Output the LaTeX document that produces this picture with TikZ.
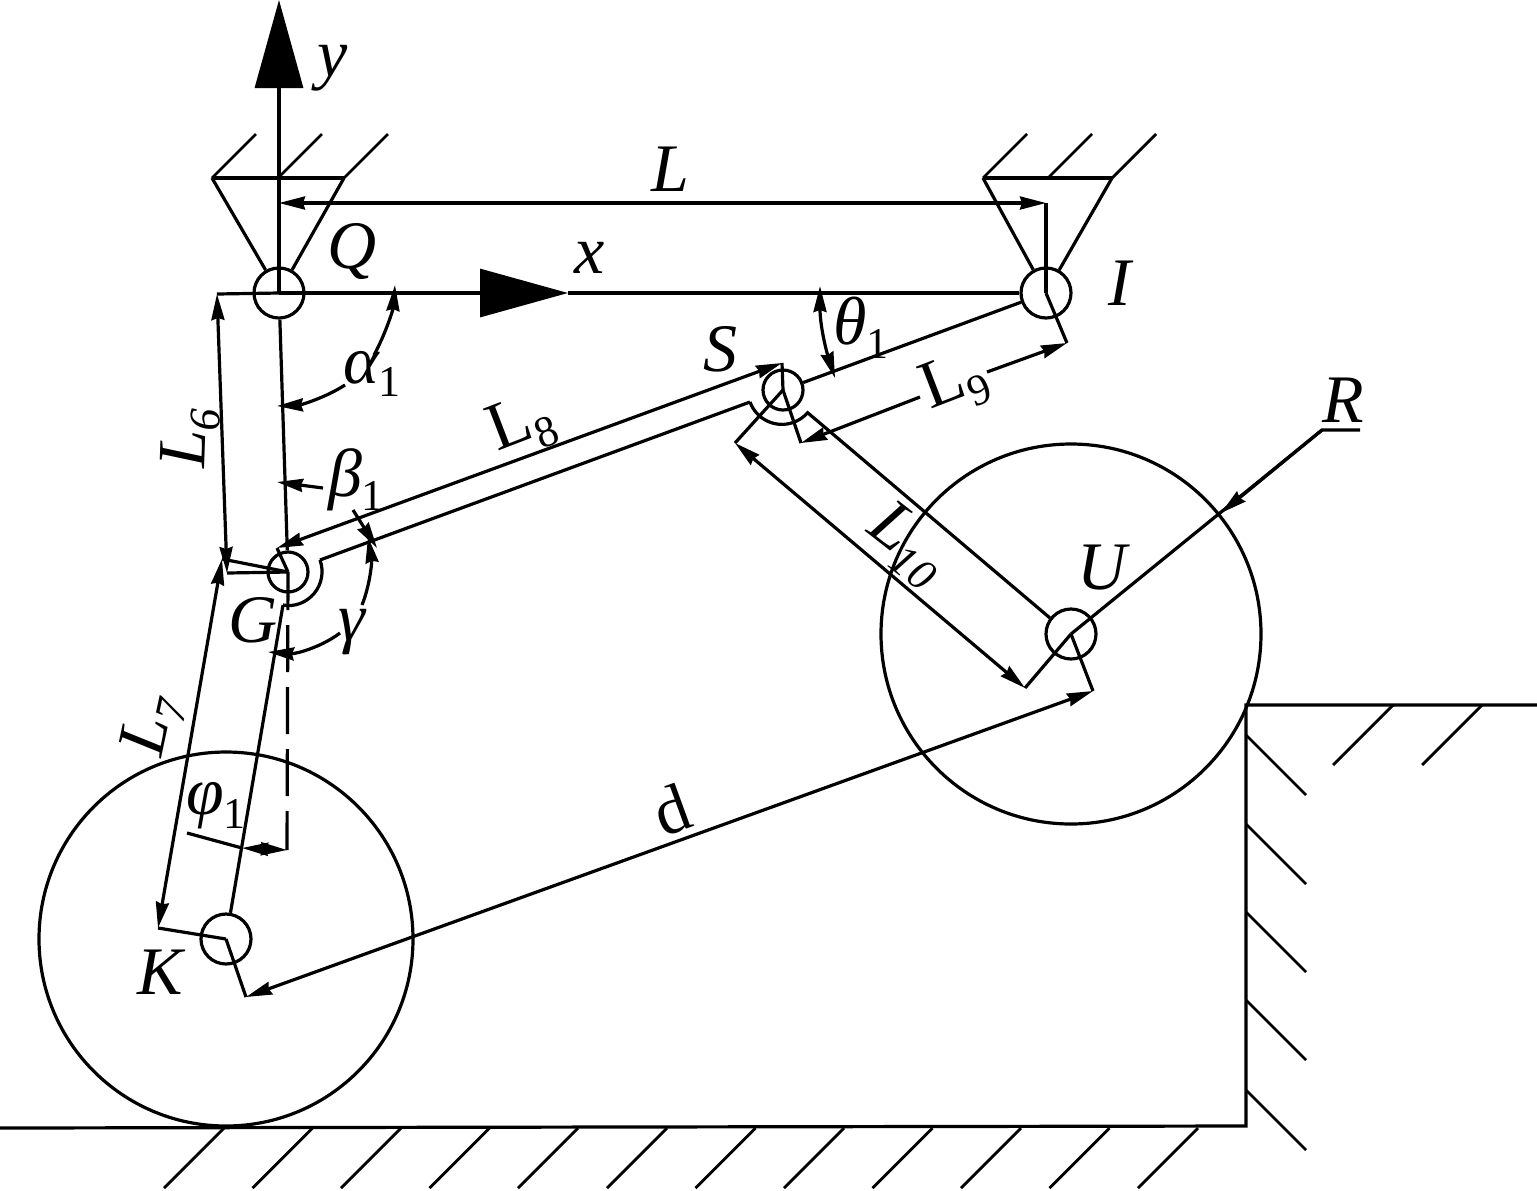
\documentclass[tikz,border=0pt]{standalone}
\usepackage{fontspec}
\setmainfont{Liberation Serif}
\usetikzlibrary{arrows.meta}
\newcommand{\lowidx}[1]{\raisebox{-.2em}{\fontsize{22}{26}\selectfont #1}}
\newcommand{\lowone}{\lowidx{\upshape 1}}
\begin{document}
\begin{tikzpicture}[x=.5pt,y=-.5pt,line width=1.6pt,>={Stealth[length=13pt,width=6.5pt,inset=1pt]},
    joint/.style = {draw, circle, inner sep=0pt, minimum size=25pt},
    smalljoint/.style = {draw, circle, inner sep=0pt, minimum size=20pt},
    wheel/.style = {draw, circle, inner sep=0pt},
    lab/.style = {inner sep=0pt, font=\fontsize{34}{40}\selectfont\itshape},
    axis/.style = {-{Triangle[length=44pt,width=24pt]}},
    dim/.style = {<->},
    lead/.style = {->},
    hatch/.style = {line width=1.4pt}]
    \useasboundingbox (0,0) rectangle (1537,1190);

    \node[joint] (Q) at (279,293) {};
    \node[joint] (I) at (1046,293) {};
    \node[smalljoint] (G) at (288,572) {};
    \node[smalljoint] (S) at (783,390) {};
    \node[joint] (U) at (1071,634) {};
    \node[joint] (K) at (226,939) {};
    \node[wheel, minimum size=187pt] (wheelK) at (226,939) {};
    \node[wheel, minimum size=190pt] (wheelU) at (1071,634) {};

    \node[lab] (laby) at (333,68) {y};
    \node[lab] (labx) at (590,258) {x};
    \node[lab] (labL) at (670,169) {L};
    \node[lab] (labQ) at (352,251) {Q};
    \node[lab] (labI) at (1120,283) {I};
    \node[lab] (labS) at (720,349) {S};
    \node[lab] (labtheta) at (861,328) {θ\lowone};
    \node[lab] (labalpha) at (372,374) {α\lowone};
    \node[lab] (labbeta) at (356,480) {β\lowone};
    \node[lab] (labgamma) at (352,632) {γ};
    \node[lab] (labG) at (253,620) {G};
    \node[lab] (labphi) at (216,806) {φ\lowone};
    \node[lab] (labK) at (160,972) {K};
    \node[lab] (labU) at (1102,568) {U};
    \node[lab] (labR) at (1343,400) {R};
    \node[lab, rotate=88] (labLsix) at (190,438) {L\lowidx{6}};
    \node[lab, rotate=78] (labLseven) at (153,726) {L\lowidx{7}};
    \node[lab, rotate=21] (labLeight) at (522,426) {\upshape L\lowidx{8}};
    \node[lab, rotate=21] (labLnine) at (955,384) {\upshape L\lowidx{9}};
    \node[lab, rotate=-38] (labLten) at (907,545) {L\lowidx{10}};
    \node[lab, rotate=20] (labd) at (672,810) {\upshape d};

    \coordinate (ytip) at (279,0);
    \coordinate (xtip) at (568,293);
    \coordinate (Qfoot) at (279,203);
    \coordinate (Ifoot) at (1046,203);
    \coordinate (Qleft) at (212,178);
    \coordinate (Qright) at (344,178);
    \coordinate (Ileft) at (983,178);
    \coordinate (Iright) at (1112,178);
    \coordinate (Qtop) at (217,294);
    \coordinate (Gsix) at (227,573);
    \coordinate (Gseven) at (222,559);
    \coordinate (Keven) at (158,928);
    \coordinate (Geight) at (277,548);
    \coordinate (Seight) at (782,363);
    \coordinate (Snine) at (801,443);
    \coordinate (Inine) at (1067,343);
    \coordinate (nineA) at (920,397);
    \coordinate (nineB) at (987,372);
    \coordinate (Sten) at (735,443);
    \coordinate (Uten) at (1025,688);
    \coordinate (Ud) at (1093,691);
    \coordinate (Kd) at (246,997);
    \coordinate (leverG) at (320,560);
    \coordinate (leverGb) at (283,605);
    \coordinate (leverS) at (750,402);
    \coordinate (leverU) at (1050,618);
    \coordinate (Rbase) at (1322,430);
    \coordinate (Rend) at (1360,430);
    \coordinate (Rtip) at (1221,513);
    \coordinate (dashend) at (287,850);
    \coordinate (phistart) at (187,833);
    \coordinate (phitip) at (242,848);
    \coordinate (phimid) at (265,849);
    \coordinate (phitail) at (263,849);

    \draw[axis] (Q.center) -- (ytip);
    \draw[axis] (Q.center) -- (xtip);
    \draw (xtip) -- (I);
    \draw (Qleft) -- (Qright);
    \draw (Ileft) -- (Iright);
    \draw (Qleft) -- (Q);
    \draw (Qright) -- (Q);
    \draw (Ileft) -- (I);
    \draw (Iright) -- (I);
    \draw (I.center) -- (Ifoot);
    \draw[dim] (Qfoot) -- (Ifoot);

    \draw (Q) -- (G);
    \draw (I) -- (S);
    \draw (G.center) -- (Geight);
    \draw (G.center) -- (Gsix);
    \draw (G.center) -- (Gseven);
    \draw (Q.center) -- (Qtop);
    \draw (K.center) -- (Keven);
    \draw (K.center) -- (Kd);
    \draw (U.center) -- (Ud);
    \draw (U.center) -- (Uten);
    \draw (S.center) -- (Sten);
    \draw (S.center) -- (Snine);
    \draw (S.center) -- (Seight);
    \draw (I.center) -- (Inine);
    \draw (U.center) -- (Rbase) -- (Rend);
    \draw[lead] (Rbase) -- (Rtip);

    \draw (leverGb) -- (K);
    \draw (leverG) arc[start angle=20, end angle=-90, radius=17pt] -- (leverGb);
    \draw (leverG) -- (leverS);
    \draw (leverS) arc[start angle=200, end angle=319, radius=17pt] -- (leverU);

    \draw[dim] (Qtop) -- (Gsix);
    \draw[dim] (Gseven) -- (Keven);
    \draw[dim] (Geight) -- (Seight);
    \draw[<-] (Snine) -- (nineA);
    \draw[->] (nineB) -- (Inine);
    \draw[dim] (Sten) -- (Uten);
    \draw[dim] (Ud) -- (Kd);

    \draw[dash pattern=on 23.5pt off 7.5pt, dash phase=4.5pt] (G.center) -- (dashend);
    \draw (phistart) -- (phitip);
    \draw[->] (phitail) -- (phitip);
    \draw[->] (phimid) -- (dashend);

    \draw[<-] (395,285) .. controls (393,310) and (385,335) .. (374,355);
    \draw[<-] (277,406) .. controls (300,405) and (325,398) .. (345,385);
    \draw[<-] (277,482) -- (323,488);
    \draw[dim] (820,286) .. controls (820,325) and (826,350) .. (835,378);
    \draw[->] (353,510) -- (377,548);
    \draw[<-] (368,537) .. controls (372,562) and (370,585) .. (362,605);
    \draw[<-] (268,652) .. controls (295,654) and (320,648) .. (340,633);

    \draw (0,1128) -- (1246,1126) -- (1246,705) -- (1537,705);
    \foreach \x in {224,312.5,401,489.5,578,667,755.5,844,932.5,1021,1109.5,1198}
        \draw[hatch] (\x,1128) -- ++(-60,60);
    \foreach \y in {735,824,912,1000,1090}
        \draw[hatch] (1246,\y) -- ++(60,60);
    \foreach \x in {1393,1482}
        \draw[hatch] (\x,705) -- ++(-60,60);
    \foreach \x in {212,278,344,983,1048,1112}
        \draw[hatch] (\x,178) -- ++(44,-44);
\end{tikzpicture}
\end{document}
